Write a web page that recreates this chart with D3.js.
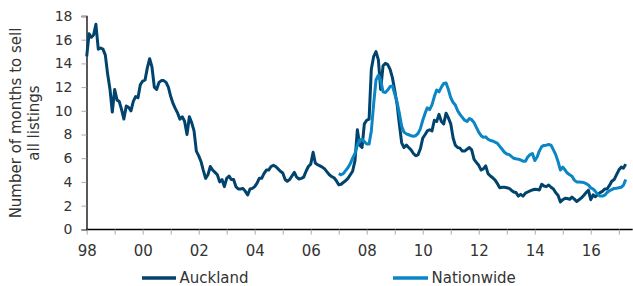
<!DOCTYPE html>
<html>
<head>
<meta charset="utf-8">
<script src="https://cdn.jsdelivr.net/npm/d3@7"></script>
<style>
  html, body { margin: 0; padding: 0; background: #fff; }
  svg { display: block; font-family: "DejaVu Sans", Verdana, sans-serif; }
</style>
</head>
<body>
<svg id="chart" width="633" height="286"></svg>
<script>
// ---- DATA ----
const aucklandStart = "1998-01";   // monthly series
const aucklandValues = [
  14.6,16.5,16.2,16.4,17.3,15.2,15.3,15.2,14.7,13.1,11.8,9.9,
  11.8,10.9,10.8,10.1,9.3,10.4,10.3,10.0,10.8,11.2,11.1,12.2,
  12.5,12.6,13.6,14.4,13.7,12.0,11.8,12.4,12.55,12.55,12.4,12.0,
  11.2,10.6,10.2,9.8,9.3,9.5,9.1,8.0,9.5,9.0,8.3,6.6,
  6.2,5.7,5.0,4.3,4.6,5.3,5.0,4.8,4.6,4.0,4.2,3.6,
  4.3,4.5,4.2,4.2,3.6,3.4,3.4,3.45,3.2,2.9,3.4,3.45,
  3.6,3.9,4.3,4.3,4.7,5.0,5.0,5.3,5.4,5.3,5.1,4.9,
  4.75,4.2,4.05,4.2,4.5,4.8,4.4,4.25,4.3,4.4,4.9,5.3,
  5.5,6.5,5.6,5.45,5.35,5.25,5.1,4.85,4.6,4.45,4.35,4.1,
  3.75,3.8,3.95,4.1,4.3,4.6,4.9,5.8,8.4,7.1,6.9,8.9,
  9.2,9.3,13.5,14.6,15.0,14.3,11.8,13.8,14.0,13.9,13.5,12.8,
  11.7,10.5,8.9,7.3,6.9,7.1,6.9,6.7,6.4,6.2,6.3,6.8,
  7.7,8.0,8.3,8.4,8.3,9.2,9.1,9.7,9.1,8.9,9.8,9.4,
  8.9,7.7,7.1,6.9,6.85,6.6,6.6,6.75,6.9,6.7,5.9,5.65,
  5.4,5.0,5.1,5.35,4.7,4.5,4.35,4.15,3.85,3.5,3.55,3.55,
  3.5,3.45,3.3,3.15,3.1,2.8,2.95,2.8,3.05,3.15,3.25,3.32,
  3.38,3.35,3.32,3.8,3.65,3.6,3.74,3.55,3.4,3.1,2.85,2.3,
  2.5,2.62,2.6,2.53,2.72,2.55,2.35,2.5,2.65,2.85,3.1,3.3,
  2.5,2.9,2.75,2.95,3.1,3.2,3.4,3.4,3.7,4.05,4.2,4.6,
  5.0,5.25,5.15,5.5
];
const nationwideStart = "2007-01";
const nationwideValues = [
  4.7,4.6,4.7,4.95,5.2,5.55,6.0,6.4,7.1,7.55,7.6,7.4,
  7.2,7.2,8.3,10.6,12.6,13.0,12.6,11.6,11.55,11.75,12.05,12.1,
  11.4,10.7,9.8,8.7,8.2,8.05,7.98,7.9,7.85,7.9,8.1,8.5,
  9.2,9.8,10.25,10.1,10.5,11.2,11.75,11.6,12.0,12.3,12.35,11.8,
  11.1,10.7,10.5,10.0,9.7,9.45,9.2,9.1,9.35,9.25,9.0,8.6,
  8.2,7.9,7.77,7.8,7.6,7.5,7.45,7.35,7.25,7.0,6.75,6.5,
  6.35,6.3,6.15,6.0,5.95,5.92,5.85,5.75,5.75,6.1,6.3,6.4,
  5.8,6.1,6.6,6.98,7.08,7.1,7.15,7.1,6.7,6.3,5.7,5.0,
  5.25,5.0,4.75,4.6,4.48,4.15,4.0,4.0,3.98,3.95,3.85,3.74,
  3.5,3.4,3.2,2.95,2.8,2.8,2.88,3.1,3.25,3.35,3.45,3.46,
  3.5,3.55,3.7,4.2
];
const seriesNames = ["Auckland", "Nationwide"];
const yTicks = [0,2,4,6,8,10,12,14,16,18];
const xLabelYears = [1998,2000,2002,2004,2006,2008,2010,2012,2014,2016];
const yTitle = ["Number of months to sell", "all listings"];

// ---- STYLE ----
const colors = { Auckland: "#00446e", Nationwide: "#0a86c5" };
const textColor = "#333";

const svg = d3.select("#chart");
const parse = d3.timeParse("%Y-%m");

function toSeries(start, values) {
  const s = parse(start);
  return values.map((v, i) => ({ date: d3.timeMonth.offset(s, i), value: v }));
}
const auck = toSeries(aucklandStart, aucklandValues);
const nat = toSeries(nationwideStart, nationwideValues);

const x = d3.scaleTime()
  .domain([new Date(1998, 0, 1), new Date(2017, 6, 1)])
  .range([86.7, 632.7]);
const y = d3.scaleLinear().domain([0, 18]).range([229.3, 16]);

// Y axis
const yAxis = svg.append("g").attr("transform", "translate(86.5,0)")
  .call(d3.axisLeft(y).tickValues(yTicks).tickSize(5).tickPadding(9).tickFormat(d3.format("d")));
yAxis.select(".domain").attr("stroke", "#000").attr("stroke-width", 1.3);
yAxis.selectAll(".tick line").attr("stroke", "#aaa");
yAxis.selectAll(".tick text").attr("font-size", 14).attr("fill", textColor)
  .attr("font-family", "DejaVu Sans, Verdana, sans-serif");

// X axis
const yearTicks = d3.range(1998, 2018).map(yr => new Date(yr, 0, 1));
const xAxis = svg.append("g").attr("transform", "translate(0,229.5)")
  .call(d3.axisBottom(x).tickValues(yearTicks).tickSize(5).tickPadding(11)
    .tickFormat(d => xLabelYears.includes(d.getFullYear()) ? d3.timeFormat("%y")(d) : ""));
xAxis.select(".domain").attr("stroke", "#000").attr("stroke-width", 1.3)
  .attr("d", `M${x.range()[0] - 0.5},0H${x.range()[1]}`);
xAxis.selectAll(".tick line").attr("stroke", "#aaa");
xAxis.selectAll(".tick text").attr("font-size", 15).attr("fill", textColor)
  .attr("font-family", "DejaVu Sans, Verdana, sans-serif");

// Lines
const line = d3.line().x(d => x(d.date)).y(d => y(d.value)).curve(d3.curveLinear);
svg.append("path").datum(auck).attr("fill", "none")
  .attr("stroke", colors.Auckland).attr("stroke-width", 3)
  .attr("stroke-linejoin", "round").attr("d", line);
svg.append("path").datum(nat).attr("fill", "none")
  .attr("stroke", colors.Nationwide).attr("stroke-width", 3)
  .attr("stroke-linejoin", "round").attr("d", line);

// Y title
const yt = svg.append("text")
  .attr("transform", "translate(0,123) rotate(-90)")
  .attr("text-anchor", "middle").attr("font-size", 15).attr("fill", textColor);
yt.append("tspan").attr("x", 0).attr("y", 21).text(yTitle[0]);
yt.append("tspan").attr("x", 0).attr("y", 39).text(yTitle[1]);

// Legend
const legendPos = [{ x1: 142, x2: 176 }, { x1: 393, x2: 428 }];
seriesNames.forEach((name, i) => {
  const g = svg.append("g");
  g.append("line").attr("x1", legendPos[i].x1).attr("x2", legendPos[i].x2)
    .attr("y1", 278).attr("y2", 278)
    .attr("stroke", colors[name]).attr("stroke-width", 3.5);
  g.append("text").attr("x", legendPos[i].x2 + 3.5).attr("y", 283.3)
    .attr("font-size", 15).attr("fill", textColor).text(name);
});
</script>
</body>
</html>
